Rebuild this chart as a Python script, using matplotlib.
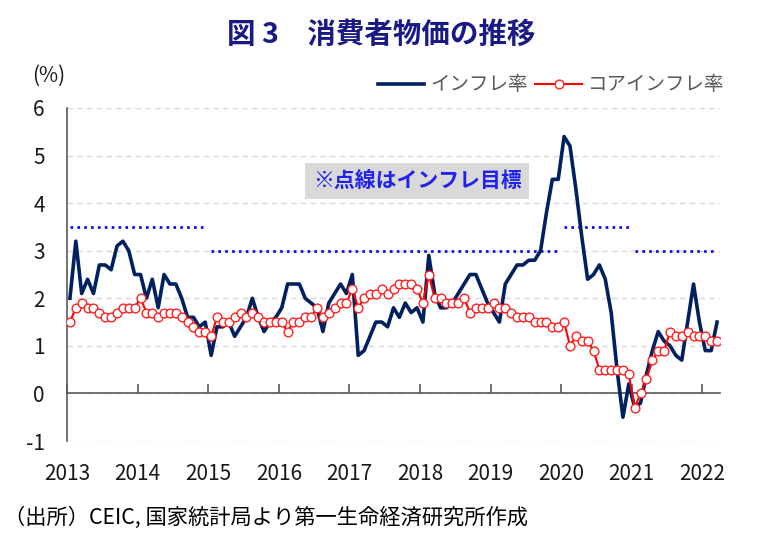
import matplotlib
matplotlib.use('Agg')
import matplotlib.pyplot as plt
import numpy as np
from matplotlib.transforms import ScaledTranslation

plt.rcParams['font.family'] = ['Noto Sans CJK JP', 'DejaVu Sans']

# ---- data ----
years = ['2013', '2014', '2015', '2016', '2017', '2018', '2019', '2020', '2021', '2022']

cpi = [2.0, 3.2, 2.1, 2.4, 2.1, 2.7, 2.7, 2.6, 3.1, 3.2, 3.0, 2.5,   # 2013
       2.5, 2.0, 2.4, 1.8, 2.5, 2.3, 2.3, 2.0, 1.6, 1.6, 1.4, 1.5,   # 2014
       0.8, 1.4, 1.4, 1.5, 1.2, 1.4, 1.6, 2.0, 1.6, 1.3, 1.5, 1.6,   # 2015
       1.8, 2.3, 2.3, 2.3, 2.0, 1.9, 1.8, 1.3, 1.9, 2.1, 2.3, 2.1,   # 2016
       2.5, 0.8, 0.9, 1.2, 1.5, 1.5, 1.4, 1.8, 1.6, 1.9, 1.7, 1.8,   # 2017
       1.5, 2.9, 2.1, 1.8, 1.8, 1.9, 2.1, 2.3, 2.5, 2.5, 2.2, 1.9,   # 2018
       1.7, 1.5, 2.3, 2.5, 2.7, 2.7, 2.8, 2.8, 3.0, 3.8, 4.5, 4.5,   # 2019
       5.4, 5.2, 4.3, 3.3, 2.4, 2.5, 2.7, 2.4, 1.7, 0.5, -0.5, 0.2,  # 2020
       -0.3, -0.2, 0.4, 0.9, 1.3, 1.1, 1.0, 0.8, 0.7, 1.5, 2.3, 1.5, # 2021
       0.9, 0.9, 1.5]                                                # 2022

core = [1.5, 1.8, 1.9, 1.8, 1.8, 1.7, 1.6, 1.6, 1.7, 1.8, 1.8, 1.8,  # 2013
        2.0, 1.7, 1.7, 1.6, 1.7, 1.7, 1.7, 1.6, 1.5, 1.4, 1.3, 1.3,  # 2014
        1.2, 1.6, 1.5, 1.5, 1.6, 1.7, 1.6, 1.7, 1.6, 1.5, 1.5, 1.5,  # 2015
        1.5, 1.3, 1.5, 1.5, 1.6, 1.6, 1.8, 1.6, 1.7, 1.8, 1.9, 1.9,  # 2016
        2.2, 1.8, 2.0, 2.1, 2.1, 2.2, 2.1, 2.2, 2.3, 2.3, 2.3, 2.2,  # 2017
        1.9, 2.5, 2.0, 2.0, 1.9, 1.9, 1.9, 2.0, 1.7, 1.8, 1.8, 1.8,  # 2018
        1.9, 1.8, 1.8, 1.7, 1.6, 1.6, 1.6, 1.5, 1.5, 1.5, 1.4, 1.4,  # 2019
        1.5, 1.0, 1.2, 1.1, 1.1, 0.9, 0.5, 0.5, 0.5, 0.5, 0.5, 0.4,  # 2020
        -0.3, 0.0, 0.3, 0.7, 0.9, 0.9, 1.3, 1.2, 1.2, 1.3, 1.2, 1.2, # 2021
        1.2, 1.1, 1.1]                                               # 2022

target_by_year = [3.5, 3.5, 3.0, 3.0, 3.0, 3.0, 3.0, 3.5, 3.0, 3.0]

n = len(cpi)
x = np.arange(n) + 0.5
target = np.array([target_by_year[i // 12] for i in range(n)])

# ---- figure ----
fig = plt.figure(figsize=(7.72, 5.41), dpi=100)
ax = fig.add_axes([67 / 772, 1 - 441 / 541, (720 - 67) / 772, (441 - 108) / 541])

# inflation target dotted segments (split where the target changes)
start = 0
for i in range(1, n + 1):
    if i == n or target[i] != target[start]:
        ax.plot(x[start:i], target[start:i], color='#0000FF', lw=1.9,
                linestyle=(0, (1, 1.6)), dash_capstyle='butt', zorder=2)
        start = i

l1, = ax.plot(x, cpi, color='#002060', lw=2.6, zorder=3, solid_joinstyle='round')
l2, = ax.plot(x, core, color='#FF0000', lw=1.5, marker='o', markersize=6.3,
              markerfacecolor='white', markeredgecolor='#FF2020', markeredgewidth=1.0, zorder=4)

ax.set_xlim(0, n)
ax.set_ylim(-1, 6)
ax.set_yticks(range(-1, 7))
ax.set_yticklabels([str(v) for v in range(-1, 7)])
for lbl in ax.get_yticklabels():
    if lbl.get_text().startswith('-'):
        lbl.set_color('#FF0000')

ax.set_xticks(np.arange(len(years)) * 12)
ax.set_xticklabels(years)
off = ScaledTranslation(3 / 100, 0, fig.dpi_scale_trans)
for lbl in ax.get_xticklabels():
    lbl.set_transform(lbl.get_transform() + off)

ax.grid(axis='y', linestyle=(0, (4, 3)), color='#d9d9d9', lw=1.0, zorder=0)
ax.set_axisbelow(True)

for s in ['top', 'right']:
    ax.spines[s].set_visible(False)
ax.spines['left'].set_color('#595959')
ax.spines['left'].set_linewidth(1.2)
ax.spines['bottom'].set_position(('data', 0))
ax.spines['bottom'].set_color('#595959')
ax.spines['bottom'].set_linewidth(1.2)

ax.tick_params(axis='y', length=0, pad=16, labelsize=15, labelcolor='#1a1a1a')
ax.tick_params(axis='x', direction='in', length=6.5, width=1.2, color='#595959',
               pad=50, labelsize=15, labelcolor='#1a1a1a')

# annotation box
ax.text(0.536, 0.781, '※点線はインフレ目標', transform=ax.transAxes, ha='center', va='center',
        fontsize=15, fontweight='bold', color='#2222EE',
        bbox=dict(boxstyle='square,pad=0.38', facecolor='#D9D9D9', edgecolor='none'), zorder=6)

# title, unit, source
fig.text(381 / 772, 1 - 35 / 541, '図 3　消費者物価の推移', ha='center', va='center',
         fontsize=20.5, fontweight='bold', color='#1A1A85')
fig.text(49 / 772, 1 - 76 / 541, '(%)', ha='center', va='center', fontsize=15, color='#1a1a1a')
fig.text(4 / 772, 1 - 518 / 541, '（出所）CEIC, 国家統計局より第一生命経済研究所作成', ha='left', va='center',
         fontsize=15.3, color='#000000')

fig.legend([l1, l2], ['インフレ率', 'コアインフレ率'], loc='center',
           bbox_to_anchor=(551 / 772, 1 - 85 / 541), ncol=2, frameon=False, fontsize=14,
           handlelength=2.4, handletextpad=0.3, columnspacing=0.4, labelcolor='#595959')

fig.savefig('out.png', dpi=100)
